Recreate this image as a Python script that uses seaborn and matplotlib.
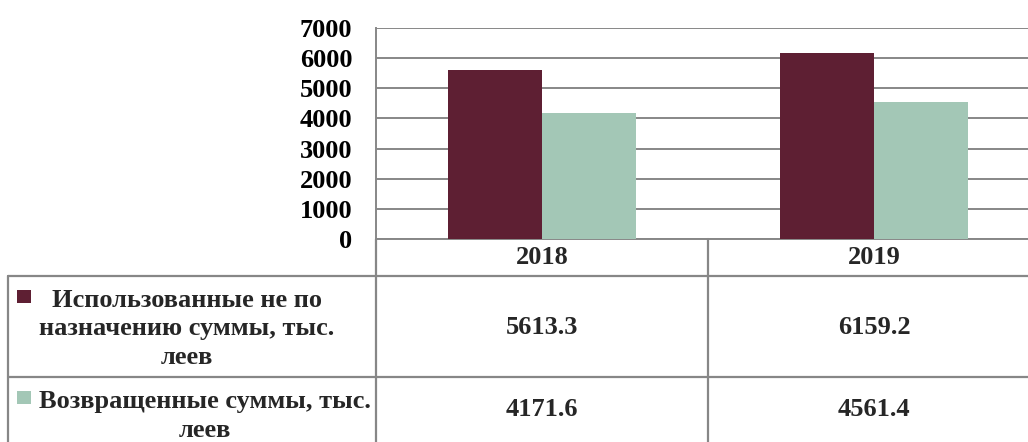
import matplotlib
matplotlib.use("Agg")
import matplotlib.pyplot as plt
from matplotlib.lines import Line2D
from matplotlib.patches import Rectangle
from matplotlib.transforms import blended_transform_factory
import seaborn as sns
import pandas as pd

# Data
years = ["2018", "2019"]
series_names = [
    "Использованные не по\nназначению суммы, тыс.\nлеев",
    "Возвращенные суммы, тыс.\nлеев",
]
misused = [5613.3, 6159.2]
returned = [4171.6, 4561.4]
y_ticks = [0, 1000, 2000, 3000, 4000, 5000, 6000, 7000]
colors = ["#5E1F33", "#A3C7B6"]

W, H = 1028, 442
sns.set_theme(style="white")
plt.rcParams["font.family"] = ["Liberation Serif", "DejaVu Serif"]
plt.rcParams["font.weight"] = "bold"
FS = 19
GRID = "#878787"


def fx(px):
    return px / W


def fy(py):
    return 1 - py / H


fig = plt.figure(figsize=(W / 100, H / 100), dpi=100)
fig.patch.set_facecolor("white")

ax = fig.add_axes([fx(376), fy(239), fx(1028) - fx(376), fy(28) - fy(239)])
df = pd.DataFrame({
    "year": years * 2,
    "series": [series_names[0]] * len(years) + [series_names[1]] * len(years),
    "value": misused + returned,
})
sns.barplot(data=df, x="year", y="value", hue="series", palette=colors,
            saturation=1, width=0.565, linewidth=0, legend=False,
            errorbar=None, ax=ax, zorder=3)

ax.set_xlim(-0.5, 1.464)
ax.set_ylim(0, 7000)
ax.set_yticks(y_ticks)
ax.set_yticklabels([str(t) for t in y_ticks], fontsize=FS, fontweight="bold")
ax.set_xticks([])
ax.set_xlabel("")
ax.set_ylabel("")
ax.tick_params(axis="y", length=0, pad=17, colors="black")
ax.grid(axis="y", color=GRID, linewidth=1.4)
ax.set_axisbelow(True)
for side in ["top", "right"]:
    ax.spines[side].set_visible(False)
for side in ["left", "bottom"]:
    ax.spines[side].set_color(GRID)
    ax.spines[side].set_linewidth(1.4)


def hline(y, x0, x1):
    fig.add_artist(Line2D([fx(x0), fx(x1)], [fy(y), fy(y)],
                          transform=fig.transFigure, color=GRID, lw=1.6))


def vline(x, y0, y1):
    fig.add_artist(Line2D([fx(x), fx(x)], [fy(y0), fy(y1)],
                          transform=fig.transFigure, color=GRID, lw=1.6))


# Data table grid under the chart
hline(276, 8, 1028)
hline(377, 8, 1028)
vline(8, 276, 442)
vline(376, 239, 442)
vline(708, 239, 442)

tr = blended_transform_factory(ax.transData, fig.transFigure)
for i, yr in enumerate(years):
    fig.text(i, fy(258), yr, transform=tr, ha="center", va="center",
             fontsize=FS, fontweight="bold")
    fig.text(i, fy(328), f"{misused[i]:.1f}", transform=tr, ha="center",
             va="center", fontsize=FS, fontweight="bold")
    fig.text(i, fy(409), f"{returned[i]:.1f}", transform=tr, ha="center",
             va="center", fontsize=FS, fontweight="bold")

# Row headers with legend keys
fig.add_artist(Rectangle((fx(17), fy(303)), 14 / W, 13 / H,
                         transform=fig.transFigure, color=colors[0], lw=0))
fig.add_artist(Rectangle((fx(17), fy(404)), 14 / W, 13 / H,
                         transform=fig.transFigure, color=colors[1], lw=0))
fig.text(fx(187), fy(329), series_names[0], ha="center", va="center",
         multialignment="center", fontsize=FS, fontweight="bold",
         linespacing=1.32)
fig.text(fx(205), fy(416), series_names[1], ha="center", va="center",
         multialignment="center", fontsize=FS, fontweight="bold",
         linespacing=1.32)

fig.savefig("out.png", dpi=100, facecolor="white")
